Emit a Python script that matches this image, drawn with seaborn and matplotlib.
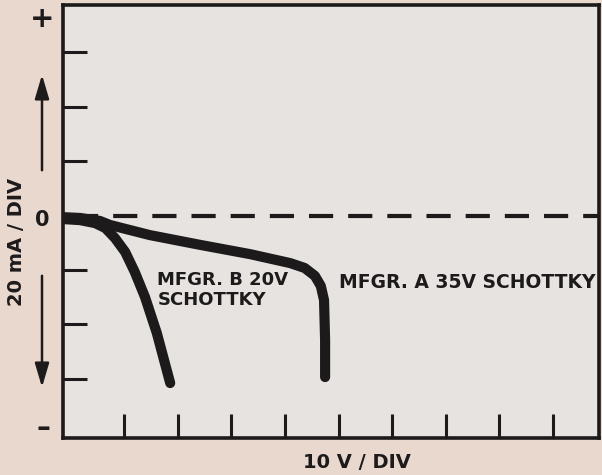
import matplotlib
matplotlib.use("Agg")
import matplotlib.pyplot as plt
import seaborn as sns
import pandas as pd

# curve data: volts (10 V/div) vs mA (20 mA/div)
mfgr_a_volts = [-1.4, 1.8, 5.5, 7.4, 14.8, 24.2, 33.5, 41.0, 43.7, 45.6, 46.7, 47.3, 47.5, 47.5]
mfgr_a_ma = [-0.6, -0.9, -2.0, -3.5, -7.2, -10.8, -14.2, -17.5, -19.3, -22.2, -25.9, -31.1, -45.8, -59.4]

mfgr_b_volts = [-1.4, 1.8, 4.6, 6.5, 8.3, 10.2, 12.0, 13.9, 16.1, 18.6]
mfgr_b_ma = [-1.3, -1.7, -2.8, -4.6, -8.3, -13.4, -20.8, -30.0, -43.2, -61.6]

x_ticks = [10, 20, 30, 40, 50, 60, 70, 80, 90]
y_ticks = [-60, -40, -20, 20, 40, 60]
zero_line = [0.7, 98.6]

label_a = "MFGR. A 35V SCHOTTKY"
label_b = "MFGR. B 20V\nSCHOTTKY"

paper = "#e8d8ce"
screen = "#e6e3e0"
ink = "#1c1a1a"

sns.set_style("white")
plt.rcParams['font.family'] = ['DejaVu Sans']

fig = plt.figure(figsize=(6.02, 4.75), dpi=100, facecolor=paper)
ax = fig.add_axes([63 / 602, 1 - 438 / 475, (599 - 63) / 602, (438 - 5) / 475])
ax.set_facecolor(screen)

df_a = pd.DataFrame({"v": mfgr_a_volts, "i": mfgr_a_ma})
df_b = pd.DataFrame({"v": mfgr_b_volts, "i": mfgr_b_ma})

# zero current reference (dashed)
ax.plot(zero_line, [0, 0], color=ink, lw=3, dashes=(5.8, 3.6))

for d in (df_a, df_b):
    sns.lineplot(data=d, x="v", y="i", sort=False, estimator=None, ax=ax,
                 color=ink, lw=7.3, solid_capstyle="round", solid_joinstyle="round")

ax.set_xlim(-1.4, 98.6)
ax.set_ylim(-81.8, 77.4)
ax.set_xticks(x_ticks)
ax.set_yticks(y_ticks)
ax.tick_params(direction="in", length=17, width=2.2, color=ink,
               labelbottom=False, labelleft=False, bottom=True, left=True)
for s in ax.spines.values():
    s.set_color(ink)
    s.set_linewidth(2.6)
ax.set_xlabel("")
ax.set_ylabel("")

txt = dict(color=ink, fontweight="bold")
ax.text(16.2, -27.5, label_b, fontsize=13, va="center", ha="left",
        linespacing=1.15, **txt)
ax.text(50.0, -24.5, label_a, fontsize=13.5, va="center", ha="left", **txt)

# axis decorations drawn outside the screen area
fig.text(42 / 602, 1 - 19 / 475, "+", fontsize=21, ha="center", va="center", **txt)
fig.text(42 / 602, 1 - 220 / 475, "0", fontsize=15, ha="center", va="center", **txt)
fig.text(43 / 602, 1 - 428 / 475, "\u2013", fontsize=20, ha="center", va="center", **txt)
fig.text(17 / 602, 1 - 242 / 475, "20 mA / DIV", fontsize=14, rotation=90,
         ha="center", va="center", **txt)
fig.text(357 / 602, 1 - 462 / 475, "10 V / DIV", fontsize=14,
         ha="center", va="center", **txt)

arrow = dict(arrowstyle="-|>,head_length=1.45,head_width=0.43", color=ink, lw=1.8,
             mutation_scale=10)
fig.add_artist(matplotlib.patches.FancyArrowPatch(
    (42 / 602, 1 - 173 / 475), (42 / 602, 1 - 72 / 475),
    transform=fig.transFigure, **arrow))
fig.add_artist(matplotlib.patches.FancyArrowPatch(
    (42 / 602, 1 - 273 / 475), (42 / 602, 1 - 390 / 475),
    transform=fig.transFigure, **arrow))

fig.savefig("out.png", dpi=100, facecolor=paper)
